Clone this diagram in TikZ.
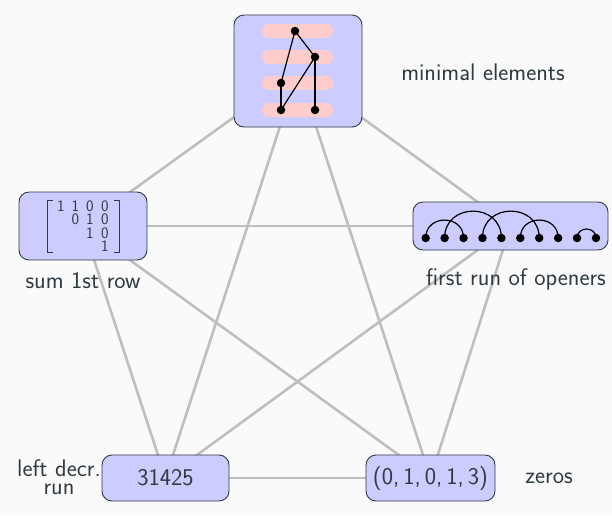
\documentclass[tikz,border=0pt]{standalone}
\usepackage{fontspec}
\usetikzlibrary{backgrounds}
\definecolor{ink}{HTML}{2E3B42}
\definecolor{boxfill}{HTML}{CCCCFF}
\definecolor{barpink}{HTML}{FFCCCC}
\definecolor{edgegray}{HTML}{BFBFBF}
\definecolor{paper}{HTML}{FAFAFA}
\pgfdeclarelayer{paperlayer}
\pgfdeclarelayer{edgelayer}
\pgfsetlayers{paperlayer,edgelayer,main}
\tikzset{
  statebox/.style={draw=ink, fill=boxfill, rounded corners=10pt, line width=0.9pt,
    inner sep=0pt, text=ink, font=\sffamily\fontsize{24}{28}\selectfont},
  tag/.style={text=ink, font=\sffamily\fontsize{24}{28}\selectfont, inner sep=0pt},
  edge/.style={draw=edgegray, line width=2.6pt},
  blackdot/.style={circle, fill=black, inner sep=0pt, minimum size=8.5pt},
  link/.style={black, line width=1.2pt},
  bar/.style={barpink, line width=14pt, line cap=round},
  entry/.style={text=ink, inner sep=0pt, font=\sffamily\fontsize{16}{18}\selectfont}
}
\begin{document}
\begin{tikzpicture}[x=1pt, y=-1pt]
  \begin{pgfonlayer}{paperlayer}
    \fill[paper] (0,0) rectangle (612,515);
  \end{pgfonlayer}
  \useasboundingbox (0,0) rectangle (612,515);

  % the five statistics
  \node[statebox, minimum width=128pt, minimum height=112pt] (top) at (298,71) {};
  \node[statebox, minimum width=128pt, minimum height=68pt] (left) at (83,226) {};
  \node[statebox, minimum width=195pt, minimum height=48pt] (right) at (510.5,226) {};
  \node[statebox, minimum width=127pt, minimum height=46pt] (bl) at (165.5,478) {31425};
  \node[statebox, minimum width=129pt, minimum height=46pt] (br) at (430.5,478) {(0,\,1,\,0,\,1,\,3)};

  % complete graph on the five statistics
  \begin{pgfonlayer}{edgelayer}
    \draw[edge] (top.center) -- (left.center);
    \draw[edge] (top.center) -- (right.center);
    \draw[edge] (top.center) -- (bl.center);
    \draw[edge] (top.center) -- (br.center);
    \draw[edge] (left.center) -- (right.center);
    \draw[edge] (left.center) -- (bl.center);
    \draw[edge] (left.center) -- (br.center);
    \draw[edge] (right.center) -- (bl.center);
    \draw[edge] (right.center) -- (br.center);
    \draw[edge] (bl.center) -- (br.center);
  \end{pgfonlayer}

  % poset with its levels
  \foreach \y in {31,57,83,110} \draw[bar] (269,\y) -- (326,\y);
  \node[blackdot] (p1) at (295,31) {};
  \node[blackdot] (p2) at (315,57) {};
  \node[blackdot] (p3) at (281,83) {};
  \node[blackdot] (p4) at (281,110) {};
  \node[blackdot] (p5) at (315,110) {};
  \draw[link] (p1.center) -- (p2.center);
  \draw[link] (p1.center) -- (p3.center);
  \draw[link] (p3.center) -- (p4.center);
  \draw[link] (p4.center) -- (p2.center);
  \draw[link] (p2.center) -- (p5.center);

  % upper triangular matrix
  \draw[ink, line width=0.9pt] (52.5,200) -- (47.5,200) -- (47.5,252) -- (52.5,252);
  \draw[ink, line width=0.9pt] (114,200) -- (119,200) -- (119,252) -- (114,252);
  \node[entry] (m11) at (61,206) {1};
  \node[entry] (m12) at (75.5,206) {1};
  \node[entry] (m13) at (90,206) {0};
  \node[entry] (m14) at (105,206) {0};
  \node[entry] (m22) at (75.5,219.5) {0};
  \node[entry] (m23) at (90,219.5) {1};
  \node[entry] (m24) at (105,219.5) {0};
  \node[entry] (m33) at (90,233) {1};
  \node[entry] (m34) at (105,233) {0};
  \node[entry] (m44) at (105,246.5) {1};

  % arc diagram
  \foreach \i in {1,...,10}
    \node[blackdot] (a\i) at ({425.7+18.92*(\i-1)},238) {};
  \foreach \s/\t in {1/3, 2/5, 4/7, 6/8, 9/10}
    \draw[link] (a\s.center) to[out=90, in=90, looseness=1.62] (a\t.center);

  % labels
  \node[tag] (ltop) at (483,72) {minimal elements};
  \node[tag] (lleft) at (83,281) {sum 1st row};
  \node[tag] (lright) at (516,279) {first run of openers};
  \node[tag, anchor=base] (lbl1) at (59,476) {left decr.};
  \node[tag, anchor=base] (lbl2) at (59,494.5) {run};
  \node[tag] (lbr) at (549,478) {zeros};
\end{tikzpicture}
\end{document}
